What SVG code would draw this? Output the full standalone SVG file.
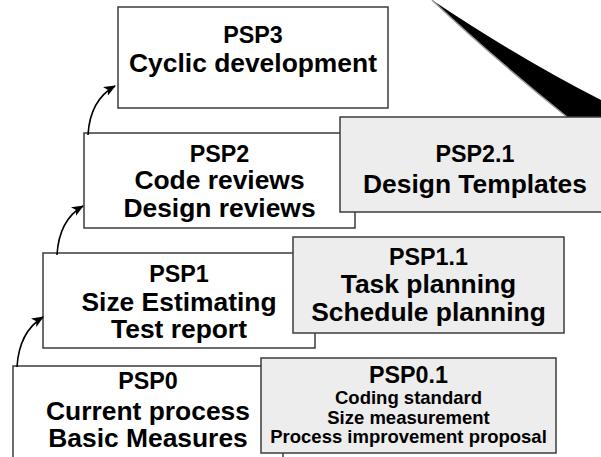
<svg xmlns="http://www.w3.org/2000/svg" width="601" height="457" viewBox="0 0 601 457">
<defs>
<style>
.box{fill:#ffffff;stroke:#3c3c3c;stroke-width:1.5}
.sh{fill:#ededed;stroke:#3c3c3c;stroke-width:1.5}
text{font-family:"Liberation Sans",Arial,sans-serif;font-weight:bold;fill:#000;text-anchor:middle}
.t{font-size:23.3px}
.c{font-size:26.4px}
.s{font-size:18.5px}
.arr{fill:none;stroke:#000;stroke-width:1.6}
</style>
<marker id="ah" viewBox="0 0 12 10" refX="11" refY="5" markerWidth="12" markerHeight="10" markerUnits="userSpaceOnUse" orient="auto">
<path d="M0,0 L12,5 L0,10 L3,5 Z" fill="#000"/>
</marker>
</defs>
<rect width="601" height="457" fill="#ffffff"/>
<g id="wedge">
<path d="M432,0 Q522,60 601,100 L601,117 L567,117 Q490,55 432,0 Z" fill="#000"/>
<path d="M567,117 Q490,55 432,0" fill="none" stroke="#999" stroke-width="1.5"/>
</g>
<g id="psp3">
<rect class="box" x="118" y="7" width="270" height="101"/>
<text class="t" x="253" y="43">PSP3</text>
<text class="c" x="253" y="72">Cyclic development</text>
</g>
<g id="psp2">
<rect class="box" x="84" y="133" width="271" height="95"/>
<text class="t" x="219.5" y="162">PSP2</text>
<text class="c" x="219.5" y="189">Code reviews</text>
<text class="c" x="219.5" y="217">Design reviews</text>
</g>
<g id="psp21">
<rect class="sh" x="340" y="117" width="280" height="95"/>
<text class="t" x="475" y="162">PSP2.1</text>
<text class="c" x="475" y="193">Design Templates</text>
</g>
<g id="psp1">
<rect class="box" x="43" y="253" width="272" height="95"/>
<text class="t" x="179" y="282">PSP1</text>
<text class="c" x="179" y="311">Size Estimating</text>
<text class="c" x="179" y="338">Test report</text>
</g>
<g id="psp11">
<rect class="sh" x="293" y="237" width="271" height="96"/>
<text class="t" x="428.5" y="265">PSP1.1</text>
<text class="c" x="428.5" y="293">Task planning</text>
<text class="c" x="428.5" y="321">Schedule planning</text>
</g>
<g id="psp0">
<rect class="box" x="13" y="366" width="270" height="110"/>
<text class="t" x="148" y="389">PSP0</text>
<text class="c" x="148" y="420">Current process</text>
<text class="c" x="148" y="447">Basic Measures</text>
</g>
<g id="psp01">
<rect class="sh" x="261" y="358" width="295" height="95"/>
<text class="t" x="408.5" y="383">PSP0.1</text>
<text class="s" x="408.5" y="404">Coding standard</text>
<text class="s" x="408.5" y="424">Size measurement</text>
<text class="s" x="408.5" y="443">Process improvement proposal</text>
</g>
<g id="connectors">
<path class="arr" d="M88,135 Q90,100 115,86" marker-end="url(#ah)"/>
<path class="arr" d="M57,255 Q59,220 83,206" marker-end="url(#ah)"/>
<path class="arr" d="M17,367 Q19,332 43,317" marker-end="url(#ah)"/>
</g>
</svg>
